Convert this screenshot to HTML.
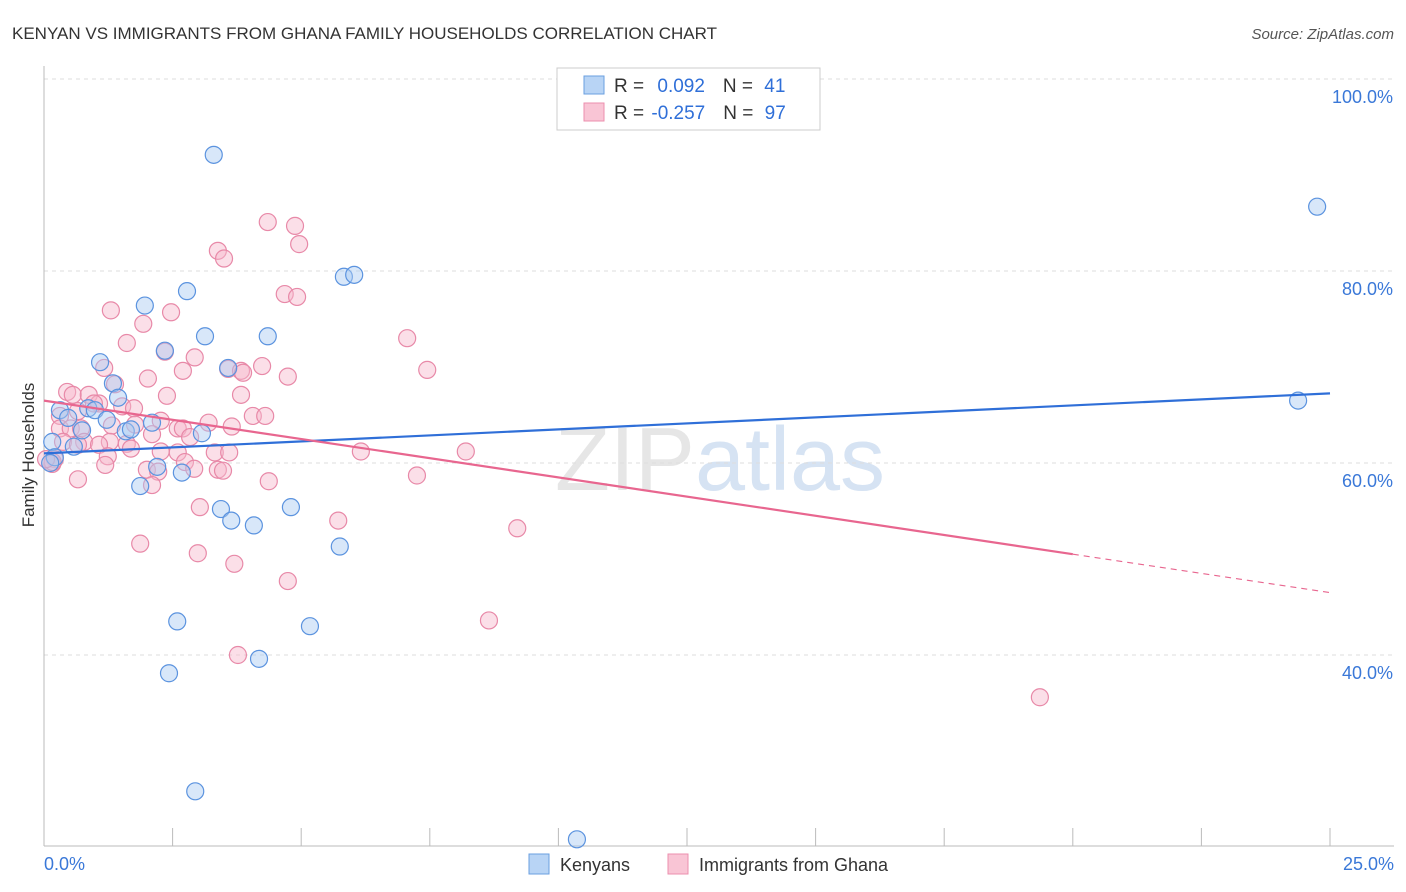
<!DOCTYPE html>
<html><head><meta charset="utf-8"><style>
body{margin:0;background:#fff;font-family:"Liberation Sans",sans-serif;overflow:hidden;}
svg text{font-family:"Liberation Sans",sans-serif;}
</style></head><body>
<svg id="chart" width="1406" height="892" xmlns="http://www.w3.org/2000/svg" style="display:block">
<text x="12" y="39" font-size="17" fill="#333">KENYAN VS IMMIGRANTS FROM GHANA FAMILY HOUSEHOLDS CORRELATION CHART</text>
<text x="1394" y="39" font-size="15" fill="#555" text-anchor="end" font-style="italic">Source: ZipAtlas.com</text>
<text transform="translate(34,455) rotate(-90)" font-size="17" fill="#333" text-anchor="middle">Family Households</text>
<text x="720" y="490" font-size="90" fill="#e6e6e6" text-anchor="middle" font-family="Liberation Serif">ZIP<tspan fill="#d6e3f3" font-family="Liberation Sans">atlas</tspan></text>
<g id="grid"></g><g id="axes"></g><g id="marks"></g>
<g>
<rect x="557" y="68" width="263" height="62" fill="#fff" stroke="#ccc"/>
<rect x="584" y="76" width="20" height="18" fill="#b8d4f5" stroke="#6a9fe0"/>
<rect x="584" y="103" width="20" height="18" fill="#f9c5d5" stroke="#ec8fae"/>
<text x="614" y="92" font-size="19" fill="#333">R = <tspan fill="#2f6fd8" dx="8">0.092</tspan><tspan dx="18">N = </tspan><tspan fill="#2f6fd8" dx="6">41</tspan></text>
<text x="614" y="119" font-size="19" fill="#333">R = <tspan fill="#2f6fd8" dx="2">-0.257</tspan><tspan dx="18">N = </tspan><tspan fill="#2f6fd8" dx="6">97</tspan></text>
</g>
<g>
<rect x="529" y="854" width="20" height="20" fill="#b8d4f5" stroke="#6a9fe0"/>
<text x="560" y="871" font-size="18" fill="#333">Kenyans</text>
<rect x="668" y="854" width="20" height="20" fill="#f9c5d5" stroke="#ec8fae"/>
<text x="699" y="871" font-size="18" fill="#333">Immigrants from Ghana</text>
</g>
</svg>
<script>
const yTicks=[40,60,80,100];
const yTickLabels=["40.0%","60.0%","80.0%","100.0%"];
const xTicks=[0,2.5,5,7.5,10,12.5,15,17.5,20,22.5,25];
const kenyanX=[3.30,24.75,1.96,2.78,5.83,6.03,3.13,4.35,2.35,1.09,3.58,1.34,1.44,0.31,0.86,0.47,0.99,1.22,2.10,1.59,1.69,0.74,3.07,0.16,0.58,0.21,0.12,2.20,2.68,1.87,3.44,3.64,4.08,4.80,5.75,2.59,5.17,2.43,4.18,2.94,10.36,24.38];
const kenyanY=[92.1,86.7,76.4,77.9,79.4,79.6,73.2,73.2,71.7,70.5,69.9,68.3,66.8,65.5,65.7,64.7,65.5,64.5,64.2,63.3,63.5,63.4,63.1,62.2,61.7,60.6,60.0,59.6,59.0,57.6,55.2,54.0,53.5,55.4,51.3,43.5,43.0,38.1,39.6,25.8,20.8,66.5];
const ghanaX=[4.35,4.88,3.38,3.5,4.96,4.68,4.92,1.3,2.47,1.93,1.61,7.06,2.35,2.93,3.58,4.24,3.83,3.87,2.7,2.02,4.74,7.45,1.17,1.38,0.45,0.56,0.87,2.39,3.83,1.07,1.52,1.75,0.97,4.06,4.3,0.66,0.31,2.27,3.2,2.6,2.7,3.65,1.32,1.77,0.31,0.52,0.72,2.1,1.28,0.78,1.61,2.84,0.37,0.66,1.07,1.69,2.27,2.6,3.32,3.6,6.16,8.2,1.24,0.21,0.16,1.19,2.74,2.0,2.22,3.38,3.48,2.92,0.66,4.37,7.25,2.1,3.03,5.72,9.2,1.87,2.99,3.7,4.74,8.65,3.77,19.36,0.17,0.04];
const ghanaY=[85.1,84.7,82.1,81.3,82.8,77.6,77.3,75.9,75.7,74.5,72.5,73.0,71.6,71.0,69.8,70.1,69.6,69.4,69.6,68.8,69.0,69.7,69.9,68.2,67.4,67.1,67.1,67.0,67.1,66.2,65.9,65.7,66.2,64.9,64.9,65.4,64.9,64.4,64.2,63.6,63.6,63.8,63.9,64.0,63.6,63.6,63.6,63.0,62.2,62.2,62.0,62.7,62.2,61.9,61.9,61.5,61.2,61.1,61.1,61.1,61.2,61.2,60.7,60.4,59.9,59.8,60.1,59.3,59.1,59.3,59.2,59.4,58.3,58.1,58.7,57.7,55.4,54.0,53.2,51.6,50.6,49.5,47.7,43.6,40.0,35.6,60.1,60.4];
const L=44,R=1330,T=79,B=846;
const sx=v=>L+v/25*(R-L);
const sy=v=>T+(100-v)*9.6;
const NS="http://www.w3.org/2000/svg";
function mk(tag,attrs,parent){const e=document.createElementNS(NS,tag);for(const k in attrs)e.setAttribute(k,attrs[k]);parent.appendChild(e);return e;}
const grid=document.getElementById('grid'),axes=document.getElementById('axes'),marks=document.getElementById('marks');
yTicks.forEach((t,i)=>{
 const g=mk('line',{x1:L,x2:1394,y1:sy(t),y2:sy(t),stroke:'#ddd','stroke-dasharray':'4,4'},grid);
 
 
 const tx=mk('text',{x:1393,y:sy(t)+24,'font-size':18,fill:'#3a78d8','text-anchor':'end'},axes);
 tx.textContent=yTickLabels[i];
 
 
});
const ya=mk('line',{x1:L,x2:L,y1:66,y2:B,stroke:'#bbb'},axes);


const xa=mk('line',{x1:L,x2:1394,y1:B,y2:B,stroke:'#bbb'},axes);


xTicks.forEach(t=>{
 const l=mk('line',{x1:sx(t),x2:sx(t),y1:B-18,y2:B,stroke:'#bbb'},axes);
 
 
});
[["0.0%",44,'start'],["25.0%",1394,'end']].forEach(a=>{
 const t=mk('text',{x:a[1],y:870,'font-size':18,fill:'#3a78d8','text-anchor':a[2]},axes);t.textContent=a[0];
 
 
});
function dots(xs,ys,fill,stroke,name){xs.forEach((x,i)=>{
 const c=mk('circle',{cx:sx(x),cy:sy(ys[i]),r:8.5,fill:fill,'fill-opacity':0.45,stroke:stroke,'stroke-width':1.2},marks);
 
 
});}
dots(ghanaX,ghanaY,'#f7b8cc','#e889a8','ghana-point');
dots(kenyanX,kenyanY,'#a9c9f2','#5b93df','kenyan-point');
const kf=[61.0,0.25],gf=[66.5,-0.8];
const kl=mk('line',{x1:sx(0),y1:sy(kf[0]),x2:sx(25),y2:sy(kf[0]+kf[1]*25),stroke:'#2f6fd8','stroke-width':2.2},marks);


const gl=mk('line',{x1:sx(0),y1:sy(gf[0]),x2:sx(20),y2:sy(gf[0]+gf[1]*20),stroke:'#e8668f','stroke-width':2.2},marks);


const gd=mk('line',{x1:sx(20),y1:sy(gf[0]+gf[1]*20),x2:sx(25),y2:sy(gf[0]+gf[1]*25),stroke:'#e8668f','stroke-width':1.2,'stroke-dasharray':'6,5'},marks);


</script>
</body></html>
